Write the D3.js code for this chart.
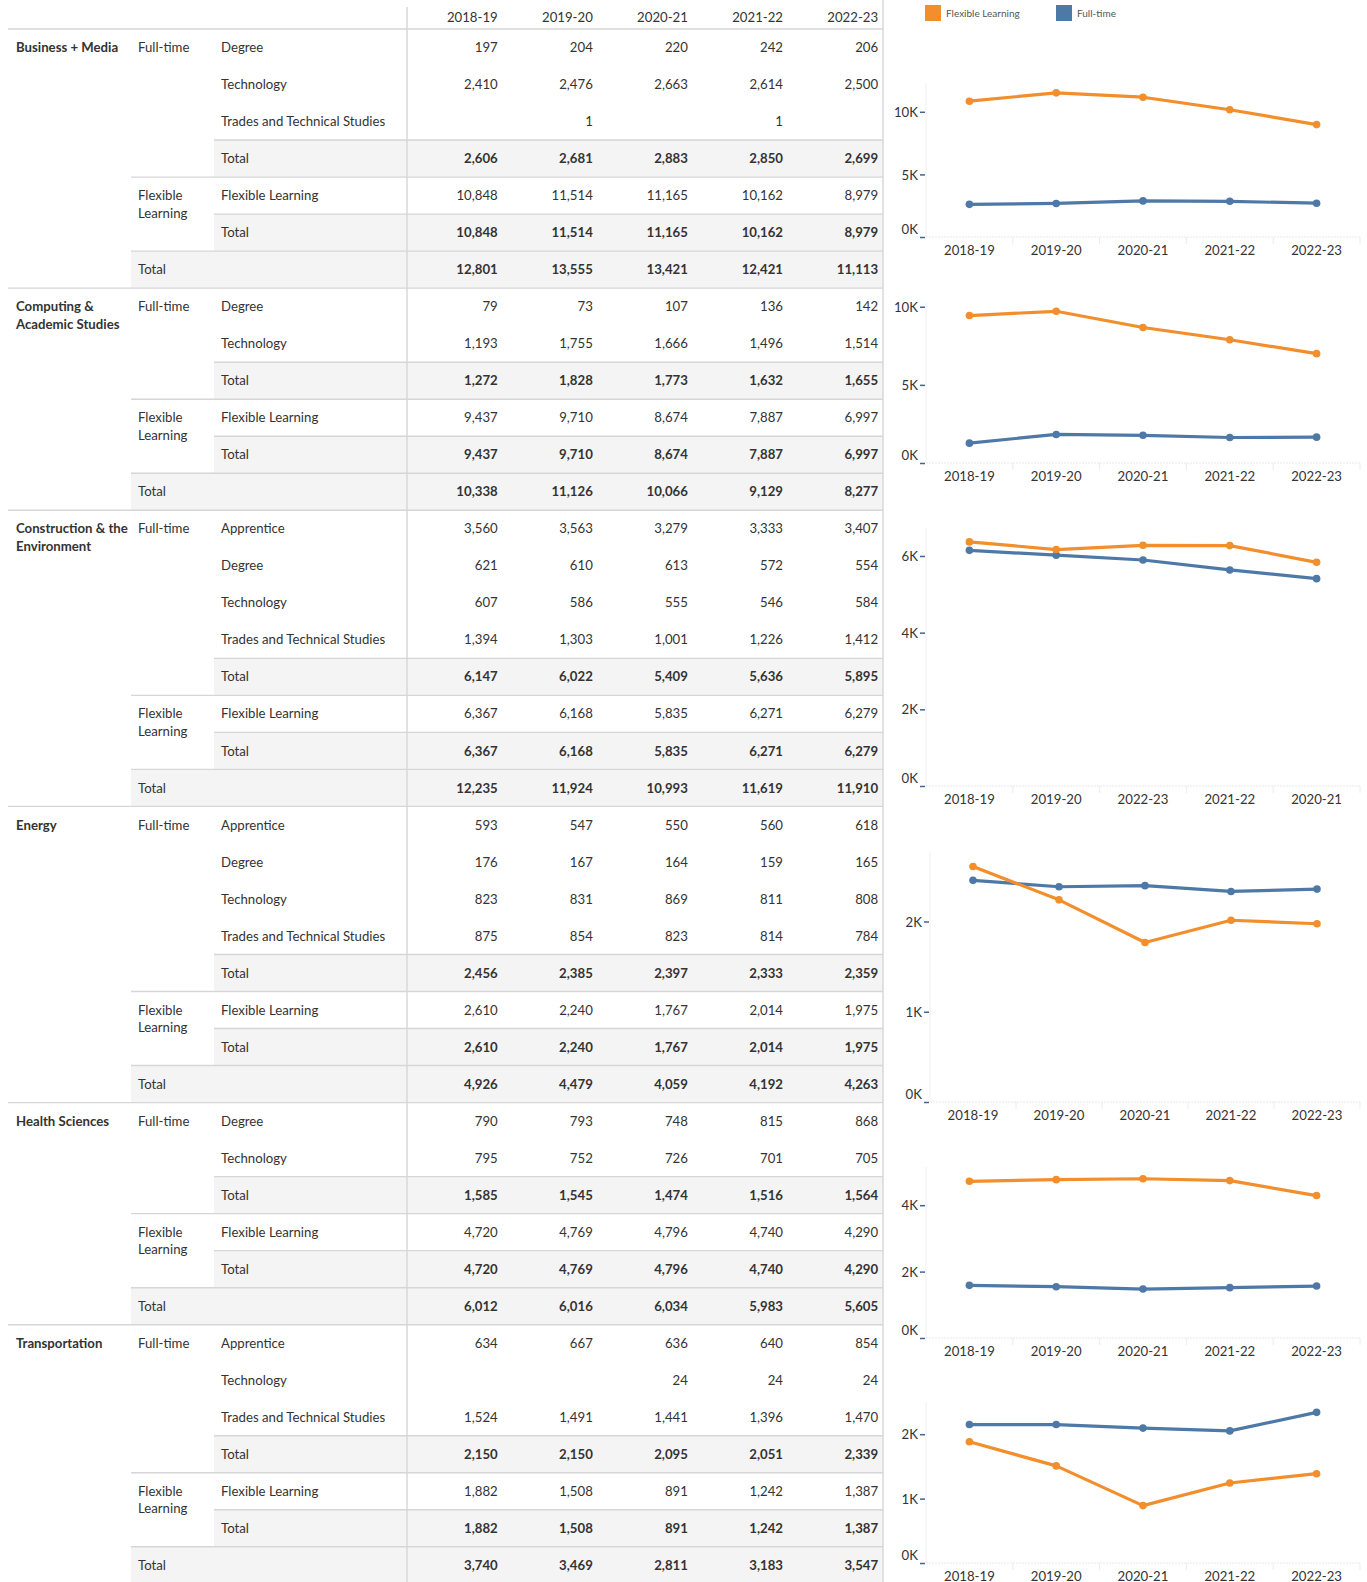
<!DOCTYPE html>
<html>
<head>
<meta charset="utf-8">
<script src="https://cdn.jsdelivr.net/npm/d3@7"></script>
<style>
  body { margin: 0; background: #fff; }
  svg text { font-family: Lato, "Open Sans", sans-serif; fill: #333; }
</style>
</head>
<body>
<svg id="chart"></svg>
<script>
const years = ['2018-19', '2019-20', '2020-21', '2021-22', '2022-23']
const groupNames = ['Business + Media', 'Computing & Academic Studies', 'Construction & the Environment',
  'Energy', 'Health Sciences', 'Transportation']

// [subgroup, program, ...values per year]; null = empty cell
const businessMedia = [
  ['Full-time', 'Degree', 197, 204, 220, 242, 206],
  ['Full-time', 'Technology', 2410, 2476, 2663, 2614, 2500],
  ['Full-time', 'Trades and Technical Studies', null, 1, null, 1, null],
  ['Full-time', 'Total', 2606, 2681, 2883, 2850, 2699],
  ['Flexible Learning', 'Flexible Learning', 10848, 11514, 11165, 10162, 8979],
  ['Flexible Learning', 'Total', 10848, 11514, 11165, 10162, 8979],
  ['Total', null, 12801, 13555, 13421, 12421, 11113]
]
const computingAcademic = [
  ['Full-time', 'Degree', 79, 73, 107, 136, 142],
  ['Full-time', 'Technology', 1193, 1755, 1666, 1496, 1514],
  ['Full-time', 'Total', 1272, 1828, 1773, 1632, 1655],
  ['Flexible Learning', 'Flexible Learning', 9437, 9710, 8674, 7887, 6997],
  ['Flexible Learning', 'Total', 9437, 9710, 8674, 7887, 6997],
  ['Total', null, 10338, 11126, 10066, 9129, 8277]
]
const construction = [
  ['Full-time', 'Apprentice', 3560, 3563, 3279, 3333, 3407],
  ['Full-time', 'Degree', 621, 610, 613, 572, 554],
  ['Full-time', 'Technology', 607, 586, 555, 546, 584],
  ['Full-time', 'Trades and Technical Studies', 1394, 1303, 1001, 1226, 1412],
  ['Full-time', 'Total', 6147, 6022, 5409, 5636, 5895],
  ['Flexible Learning', 'Flexible Learning', 6367, 6168, 5835, 6271, 6279],
  ['Flexible Learning', 'Total', 6367, 6168, 5835, 6271, 6279],
  ['Total', null, 12235, 11924, 10993, 11619, 11910]
]
const energy = [
  ['Full-time', 'Apprentice', 593, 547, 550, 560, 618],
  ['Full-time', 'Degree', 176, 167, 164, 159, 165],
  ['Full-time', 'Technology', 823, 831, 869, 811, 808],
  ['Full-time', 'Trades and Technical Studies', 875, 854, 823, 814, 784],
  ['Full-time', 'Total', 2456, 2385, 2397, 2333, 2359],
  ['Flexible Learning', 'Flexible Learning', 2610, 2240, 1767, 2014, 1975],
  ['Flexible Learning', 'Total', 2610, 2240, 1767, 2014, 1975],
  ['Total', null, 4926, 4479, 4059, 4192, 4263]
]
const healthSciences = [
  ['Full-time', 'Degree', 790, 793, 748, 815, 868],
  ['Full-time', 'Technology', 795, 752, 726, 701, 705],
  ['Full-time', 'Total', 1585, 1545, 1474, 1516, 1564],
  ['Flexible Learning', 'Flexible Learning', 4720, 4769, 4796, 4740, 4290],
  ['Flexible Learning', 'Total', 4720, 4769, 4796, 4740, 4290],
  ['Total', null, 6012, 6016, 6034, 5983, 5605]
]
const transportation = [
  ['Full-time', 'Apprentice', 634, 667, 636, 640, 854],
  ['Full-time', 'Technology', null, null, 24, 24, 24],
  ['Full-time', 'Trades and Technical Studies', 1524, 1491, 1441, 1396, 1470],
  ['Full-time', 'Total', 2150, 2150, 2095, 2051, 2339],
  ['Flexible Learning', 'Flexible Learning', 1882, 1508, 891, 1242, 1387],
  ['Flexible Learning', 'Total', 1882, 1508, 891, 1242, 1387],
  ['Total', null, 3740, 3469, 2811, 3183, 3547]
]
const groupRows = [businessMedia, computingAcademic, construction, energy, healthSciences, transportation]

// side charts
const seriesNames = ['Flexible Learning', 'Full-time']
const seriesColors = ['#f28e2b', '#4e79a7']
const chartAxisMax = [12300, 10240, 6730, 2770, 5150, 2500]
const chartTicks = [[0, 5000, 10000], [0, 5000, 10000], [0, 2000, 4000, 6000], [0, 1000, 2000], [0, 2000, 4000], [0, 1000, 2000]]
const chartYearOrder = [years, years, ['2018-19', '2019-20', '2022-23', '2021-22', '2020-21'], years, years, years]

// layout
const W = 1367, H = 1582
const tableTop = 29, rowH = 37.02
const col1X = 16, col2X = 138, col3X = 221
const subBandX = 214, grandBandX = 131, tableLeft = 8, tableRight = 883
const chartTop = [83, 303, 528, 852, 1167, 1402]
const chartBase = [237, 463, 786, 1102, 1338, 1563]
const chartLeft = [926, 926, 926, 930, 926, 926]
const chartRight = 1360
const fontSize = 13.2

const svg = d3.select('#chart').attr('width', W).attr('height', H)

const xCol = d3.scaleBand().domain(years).range([402.6, 878.1])

// flatten rows
const rows = []
groupRows.forEach((g, gi) => {
  g.forEach((r, ri) => {
    const kind = r[0] === 'Total' ? 'grand' : (r[1] === 'Total' ? 'sub' : 'detail')
    rows.push({ group: gi, idx: ri, sub: r[0], label: r[1], values: r.slice(2), kind,
      newSub: ri > 0 && r[0] !== g[ri - 1][0] && kind !== 'grand' })
  })
})
rows.forEach((r, i) => { r.y = tableTop + i * rowH })

// bands
svg.append('g').selectAll('rect')
  .data(rows.filter(r => r.kind !== 'detail'))
  .enter().append('rect')
  .attr('x', r => r.kind === 'sub' ? subBandX : grandBandX)
  .attr('y', r => r.y)
  .attr('width', r => tableRight - (r.kind === 'sub' ? subBandX : grandBandX))
  .attr('height', rowH)
  .attr('fill', '#f4f4f4')

// separators
const lineG = svg.append('g').attr('stroke', '#d6d6d6').attr('stroke-width', 1.4)
lineG.append('line').attr('x1', tableLeft).attr('x2', tableRight).attr('y1', tableTop).attr('y2', tableTop)
rows.forEach((r, i) => {
  let x1 = null
  if (r.kind === 'sub') x1 = subBandX
  else if (r.kind === 'grand' || r.newSub) x1 = grandBandX
  if (x1 !== null) lineG.append('line').attr('x1', x1).attr('x2', tableRight).attr('y1', r.y).attr('y2', r.y)
  const last = i === rows.length - 1 || rows[i + 1].group !== r.group
  if (last && i < rows.length - 1) lineG.append('line').attr('x1', tableLeft).attr('x2', tableRight).attr('y1', r.y + rowH).attr('y2', r.y + rowH)
})
lineG.append('line').attr('x1', 407).attr('x2', 407).attr('y1', 7).attr('y2', H)
lineG.append('line').attr('x1', tableRight).attr('x2', tableRight).attr('y1', 0).attr('y2', H)

// header
svg.append('g').selectAll('text')
  .data(years).enter().append('text')
  .attr('x', d => xCol(d) + xCol.bandwidth())
  .attr('y', 17).attr('dy', '0.35em')
  .attr('text-anchor', 'end').attr('font-size', fontSize)
  .text(d => d)

function wrap(sel, width, lineH) {
  sel.each(function () {
    const t = d3.select(this)
    const words = t.text().split(' ')
    const x = t.attr('x'), y = t.attr('y')
    t.text(null)
    let line = [], tspan = t.append('tspan').attr('x', x).attr('y', y).attr('dy', '0.35em'), n = 0
    words.forEach(w => {
      line.push(w)
      tspan.text(line.join(' '))
      if (tspan.node().getComputedTextLength() > width && line.length > 1) {
        line.pop()
        tspan.text(line.join(' '))
        line = [w]
        n++
        tspan = t.append('tspan').attr('x', x).attr('y', +y + n * lineH).attr('dy', '0.35em').text(w)
      }
    })
  })
}

// group labels
svg.append('g').selectAll('text')
  .data(groupNames).enter().append('text')
  .attr('x', col1X)
  .attr('y', (d, gi) => rows.find(r => r.group === gi).y + rowH / 2)
  .attr('font-size', fontSize).attr('font-weight', 700)
  .text(d => d)
  .call(wrap, 114, 17.5)

// subgroup labels
svg.append('g').selectAll('text')
  .data(rows.filter(r => r.idx === 0 || r.newSub || r.kind === 'grand')).enter().append('text')
  .attr('x', col2X)
  .attr('y', r => r.y + rowH / 2)
  .attr('font-size', fontSize)
  .text(r => r.sub)
  .call(wrap, 70, 17.5)

// program labels
svg.append('g').selectAll('text')
  .data(rows.filter(r => r.kind !== 'grand')).enter().append('text')
  .attr('x', col3X)
  .attr('y', r => r.y + rowH / 2).attr('dy', '0.35em')
  .attr('font-size', fontSize)
  .text(r => r.label)

// values
const fmt = d3.format(',')
const cells = []
rows.forEach(r => r.values.forEach((v, j) => { if (v !== null) cells.push({ r, year: years[j], v }) }))
svg.append('g').selectAll('text')
  .data(cells).enter().append('text')
  .attr('x', c => xCol(c.year) + xCol.bandwidth())
  .attr('y', c => c.r.y + rowH / 2).attr('dy', '0.35em')
  .attr('text-anchor', 'end').attr('font-size', fontSize)
  .attr('font-weight', c => c.r.kind === 'detail' ? 400 : 700)
  .text(c => fmt(c.v))

// legend
const legend = svg.append('g')
const legendX = [925, 1056]
seriesNames.forEach((s, i) => {
  legend.append('rect').attr('x', legendX[i]).attr('y', 5).attr('width', 16).attr('height', 16).attr('fill', seriesColors[i])
  legend.append('text').attr('x', legendX[i] + 21).attr('y', 13).attr('dy', '0.35em')
    .attr('font-size', 10).style('fill', '#555').text(s)
})

// charts
groupRows.forEach((g, gi) => {
  const ft = g.find(r => r[0] === 'Full-time' && r[1] === 'Total').slice(2)
  const fl = g.find(r => r[0] === 'Flexible Learning' && r[1] === 'Total').slice(2)
  const order = chartYearOrder[gi]
  const series = [fl, ft].map(vals => order.map(y => ({ year: y, v: vals[years.indexOf(y)] })))

  const x = d3.scaleBand().domain(order).range([chartLeft[gi], chartRight])
  const y = d3.scaleLinear().domain([0, chartAxisMax[gi]]).range([chartBase[gi], chartTop[gi]])
  const cg = svg.append('g')

  // axis frame
  cg.append('line').attr('x1', chartLeft[gi]).attr('x2', chartLeft[gi]).attr('y1', chartTop[gi]).attr('y2', chartBase[gi])
    .attr('stroke', '#f0f0f0')
  cg.append('line').attr('x1', chartLeft[gi]).attr('x2', chartRight).attr('y1', chartBase[gi]).attr('y2', chartBase[gi])
    .attr('stroke', '#e8e8e8').attr('stroke-dasharray', '2,1')
  cg.selectAll('.sep').data(x.domain()).enter().append('line')
    .attr('x1', d => x(d) + x.bandwidth()).attr('x2', d => x(d) + x.bandwidth())
    .attr('y1', chartBase[gi]).attr('y2', chartBase[gi] + 7)
    .attr('stroke', '#ececec')

  const yAxis = cg.append('g')
    .attr('transform', `translate(${chartLeft[gi]},0)`)
    .call(d3.axisLeft(y).tickValues(chartTicks[gi]).tickSize(6).tickPadding(2).tickFormat(d => (d / 1000) + 'K'))
  yAxis.select('.domain').remove()
  yAxis.selectAll('.tick line').attr('stroke', '#3f6596').attr('stroke-width', 1.5).attr('x2', -6).attr('x1', -1)
  yAxis.selectAll('.tick text').attr('font-size', fontSize).attr('font-family', null).style('fill', '#333')
    .attr('dy', d => d === 0 ? '-0.25em' : '0.35em')

  const xAxis = cg.append('g')
    .attr('transform', `translate(0,${chartBase[gi]})`)
    .call(d3.axisBottom(x).tickSize(0).tickPadding(13.5))
  xAxis.select('.domain').remove()
  xAxis.selectAll('.tick text').attr('font-size', fontSize).attr('font-family', null).style('fill', '#333')
    .attr('dy', '0.35em').attr('y', 13.5)

  const line = d3.line().x(d => x(d.year) + x.bandwidth() / 2).y(d => y(d.v))
  ;[1, 0].forEach(si => {
    cg.append('path').datum(series[si])
      .attr('fill', 'none').attr('stroke', seriesColors[si]).attr('stroke-width', 3.2)
      .attr('stroke-linejoin', 'round').attr('d', line)
    cg.selectAll('.dot' + si).data(series[si]).enter().append('circle')
      .attr('cx', d => x(d.year) + x.bandwidth() / 2)
      .attr('cy', d => y(d.v))
      .attr('r', 3.8).attr('fill', seriesColors[si])
  })
})
</script>
</body>
</html>
